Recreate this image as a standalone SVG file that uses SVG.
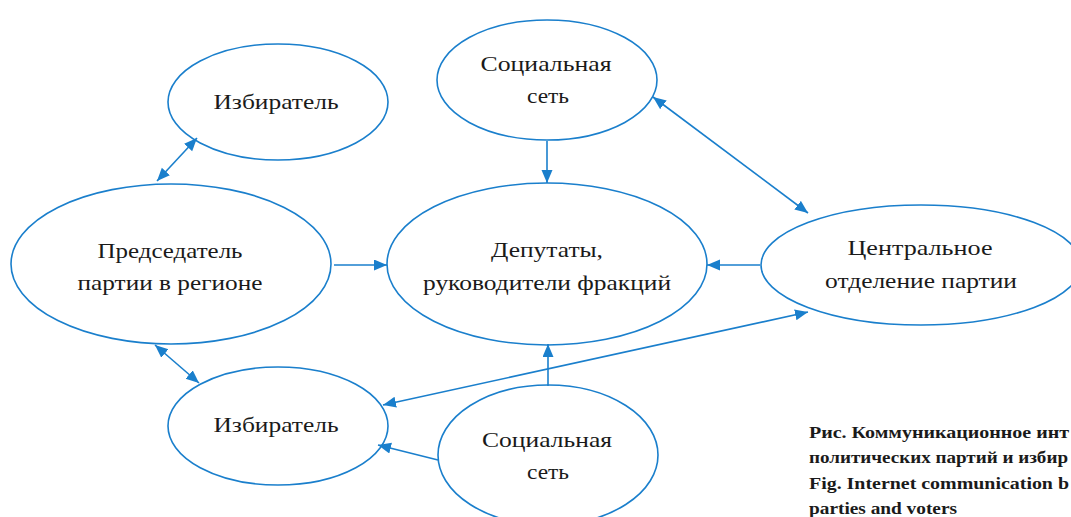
<svg xmlns="http://www.w3.org/2000/svg" width="1071" height="517" viewBox="0 0 1071 517">
<style>
.node ellipse{fill:#fff;stroke:#1a7fcc;stroke-width:1.6}
.node text{font-family:"Liberation Serif","DejaVu Serif",serif;font-size:22px;fill:#1a1a1a;text-anchor:middle}
.conn line{stroke:#1a7fcc;stroke-width:1.6}
.cap{font-family:"Liberation Serif","DejaVu Serif",serif;font-size:16px;font-weight:bold;fill:#1a1a1a}
</style>
<defs>
<marker id="ah" markerUnits="userSpaceOnUse" markerWidth="14" markerHeight="12" refX="13" refY="5.5" orient="auto-start-reverse">
<path d="M0,0 L13,5.5 L0,11 Z" fill="#1a7fcc"/>
</marker>
</defs>
<rect width="1071" height="517" fill="#fff"/>
<g id="izb-top" class="node"><ellipse cx="278" cy="102" rx="110" ry="58"/><text x="276" y="109" textLength="125" lengthAdjust="spacingAndGlyphs">Избиратель</text></g>
<g id="soc-top" class="node"><ellipse cx="547" cy="80" rx="110" ry="60"/><text x="546" y="71" textLength="131" lengthAdjust="spacingAndGlyphs">Социальная</text><text x="548" y="103" textLength="42" lengthAdjust="spacingAndGlyphs">сеть</text></g>
<g id="pred" class="node"><ellipse cx="171" cy="264" rx="160" ry="80"/><text x="170" y="258" textLength="145" lengthAdjust="spacingAndGlyphs">Председатель</text><text x="170" y="290" textLength="185" lengthAdjust="spacingAndGlyphs">партии в регионе</text></g>
<g id="dep" class="node"><ellipse cx="547" cy="264" rx="160" ry="81"/><text x="547" y="257" textLength="112" lengthAdjust="spacingAndGlyphs">Депутаты,</text><text x="547" y="290" textLength="248" lengthAdjust="spacingAndGlyphs">руководители фракций</text></g>
<g id="central" class="node"><ellipse cx="921" cy="265" rx="160" ry="60"/><text x="920" y="255" textLength="145" lengthAdjust="spacingAndGlyphs">Центральное</text><text x="921" y="288" textLength="192" lengthAdjust="spacingAndGlyphs">отделение партии</text></g>
<g id="izb-bot" class="node"><ellipse cx="278" cy="426" rx="110" ry="59"/><text x="276" y="432" textLength="125" lengthAdjust="spacingAndGlyphs">Избиратель</text></g>
<g id="soc-bot" class="node"><ellipse cx="548" cy="455" rx="110" ry="70"/><text x="547" y="447" textLength="130" lengthAdjust="spacingAndGlyphs">Социальная</text><text x="548" y="479" textLength="42" lengthAdjust="spacingAndGlyphs">сеть</text></g>
<g id="connectors" class="conn">
<line x1="157" y1="181" x2="197" y2="138" marker-start="url(#ah)" marker-end="url(#ah)"/>
<line x1="334" y1="265" x2="387" y2="265" marker-end="url(#ah)"/>
<line x1="547" y1="141" x2="547" y2="183" marker-end="url(#ah)"/>
<line x1="760" y1="265" x2="707" y2="265" marker-end="url(#ah)"/>
<line x1="653" y1="97" x2="808" y2="213" marker-start="url(#ah)" marker-end="url(#ah)"/>
<line x1="155" y1="345" x2="199" y2="383" marker-start="url(#ah)" marker-end="url(#ah)"/>
<line x1="548" y1="386" x2="548" y2="344" marker-end="url(#ah)"/>
<line x1="383" y1="405" x2="808" y2="312" marker-start="url(#ah)" marker-end="url(#ah)"/>
<line x1="438" y1="460" x2="378" y2="445" marker-end="url(#ah)"/>
</g>
<g id="caption">
<text class="cap" x="809" y="438" textLength="260" lengthAdjust="spacingAndGlyphs">Рис. Коммуникационное инт</text>
<text class="cap" x="809" y="463" textLength="259" lengthAdjust="spacingAndGlyphs">политических партий и избир</text>
<text class="cap" x="809" y="489" textLength="260" lengthAdjust="spacingAndGlyphs">Fig. Internet communication b</text>
<text class="cap" x="809" y="514" textLength="148" lengthAdjust="spacingAndGlyphs">parties and voters</text>
</g>
</svg>
